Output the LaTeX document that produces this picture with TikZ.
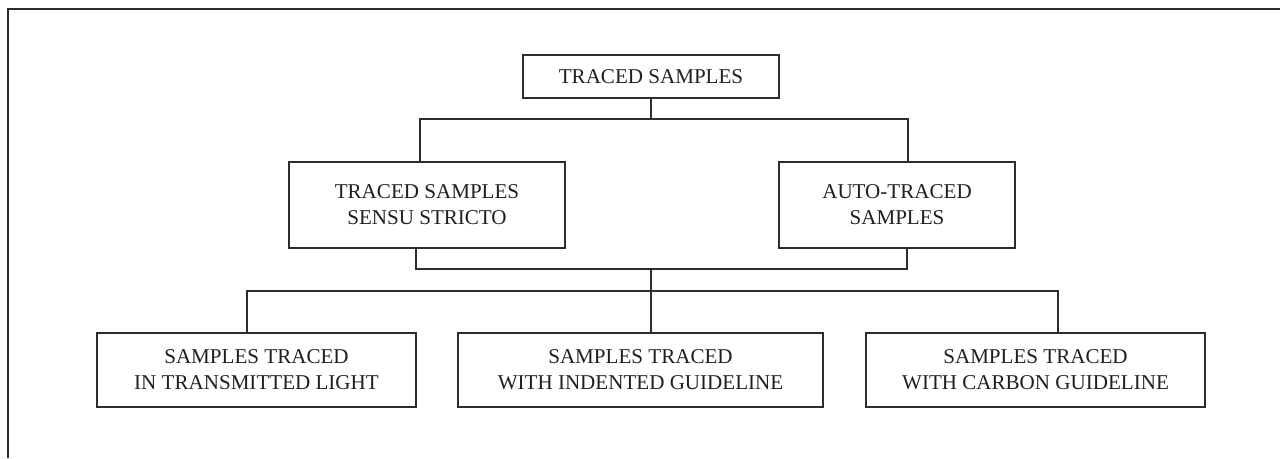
\documentclass[tikz,border=0pt]{standalone}
\usepackage{fontspec}
\setmainfont{Liberation Serif}
\usepackage{tikz}
\usetikzlibrary{positioning, calc}
\definecolor{inkgray}{RGB}{45,45,45}
\tikzset{
  classbox/.style={draw=inkgray, line width=0.8pt, align=center, inner sep=0pt,
    text=black!88, font=\fontsize{15.8}{19.5}\selectfont},
  tree/.style={draw=inkgray, line width=0.8pt}
}

\begin{document}
\begin{tikzpicture}[x=0.75pt, y=-0.75pt]
            \useasboundingbox (0,0) rectangle (1280,458);
            \draw[inkgray, line width=1.3pt] (8,458) -- (8,9) -- (1280,9);
            % boxes
            \node[classbox, minimum width=192pt, minimum height=32.25pt] (root) at (651,76.5) {TRACED SAMPLES};
            \node[classbox, minimum width=207pt, minimum height=64.5pt] (strict) at (427,205) {TRACED SAMPLES\\SENSU STRICTO};
            \node[classbox, minimum width=177pt, minimum height=64.5pt] (auto) at (897,205) {AUTO-TRACED\\SAMPLES};
            \node[classbox, minimum width=239.25pt, minimum height=55.5pt] (light) at (256.5,370) {SAMPLES TRACED\\IN TRANSMITTED LIGHT};
            \node[classbox, minimum width=273.75pt, minimum height=55.5pt] (indent) at (640.5,370) {SAMPLES TRACED\\WITH INDENTED GUIDELINE};
            \node[classbox, minimum width=254.25pt, minimum height=55.5pt] (carbon) at (1035.5,370) {SAMPLES TRACED\\WITH CARBON GUIDELINE};
            % junctions
            \coordinate (topbus) at (651,119);
            \coordinate (midbus) at (651,269);
            \coordinate (lowbus) at (651,291);
            % upper tree
            \draw[tree] (root.south -| topbus) -- (topbus);
            \draw[tree] ($(strict.north)+(-7,0)$) |- (topbus) -| ($(auto.north)+(11,0)$);
            % lower tree
            \draw[tree] ($(strict.south)+(-11,0)$) |- (midbus) -| ($(auto.south)+(10,0)$);
            \draw[tree] (midbus) -- (indent.north -| midbus);
            \draw[tree] ($(light.north)+(-9.5,0)$) |- (lowbus) -| ($(carbon.north)+(22.5,0)$);
        \end{tikzpicture}
\end{document}
